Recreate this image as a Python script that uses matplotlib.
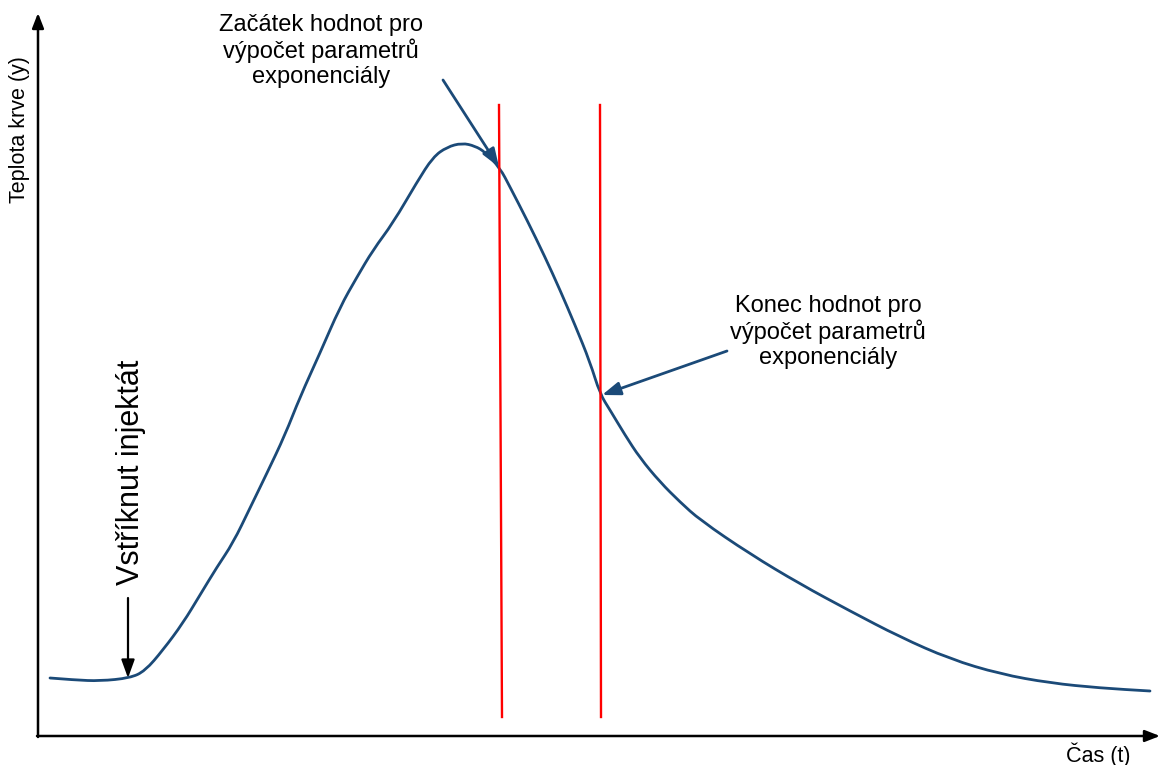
import matplotlib
matplotlib.use("Agg")
import matplotlib.pyplot as plt
from matplotlib.path import Path
from matplotlib.patches import PathPatch

# Curve (pixel-like units: x right, y down)
curve_x = [50, 75, 100, 130, 145, 163, 183, 200, 217, 233, 250, 267, 285, 300, 320,
           340, 357, 373, 393, 417, 433, 447, 462, 475, 485, 500, 510, 527, 545, 560,
           575, 590, 600, 610, 625, 640, 660, 680, 700, 750, 800, 850, 900, 950,
           1000, 1050, 1100, 1150]
curve_y = [678, 680, 681, 678, 671, 650, 623, 595, 567, 543, 508, 473, 435, 397, 353,
           307, 277, 250, 223, 182, 157, 147, 143, 146, 152, 168, 187, 220, 257, 290,
           325, 362, 394, 410, 435, 458, 482, 502, 520, 554, 584, 611, 637, 659,
           674, 683, 688, 691]

red_lines_x = [(499, 502), (600, 601)]
red_top, red_bottom = 105, 717

axis_origin = (38, 736)
xaxis_end = 1160
yaxis_end = 13

curve_color = "#1b4a78"
font = ["Liberation Sans", "DejaVu Sans"]

fig = plt.figure(figsize=(11.62, 7.65), dpi=100)
ax = fig.add_axes([0, 0, 1, 1])
ax.set_xlim(0, 1162)
ax.set_ylim(765, 0)
ax.axis("off")

# axes with arrows
ax.annotate("", xy=(xaxis_end, axis_origin[1]), xytext=(axis_origin[0] - 1, axis_origin[1]),
            arrowprops=dict(arrowstyle="-|>,head_length=0.9,head_width=0.35", lw=1.8, color="black",
                            shrinkA=0, shrinkB=0))
ax.annotate("", xy=(axis_origin[0], yaxis_end), xytext=(axis_origin[0], axis_origin[1] + 1),
            arrowprops=dict(arrowstyle="-|>,head_length=0.9,head_width=0.35", lw=1.8, color="black",
                            shrinkA=0, shrinkB=0))

# red vertical lines
for (xt, xb) in red_lines_x:
    ax.plot([xt, xb], [red_top, red_bottom], color="#ff0000", lw=1.7)

# smooth curve through the read points (quadratic Bezier between midpoints)
pts = list(zip(curve_x, curve_y))
verts = [pts[0]]
codes = [Path.MOVETO]
for i in range(1, len(pts) - 1):
    mid = ((pts[i][0] + pts[i + 1][0]) / 2, (pts[i][1] + pts[i + 1][1]) / 2)
    verts += [pts[i], mid]
    codes += [Path.CURVE3, Path.CURVE3]
verts.append(pts[-1])
codes.append(Path.LINETO)
ax.add_patch(PathPatch(Path(verts, codes), fill=False, edgecolor=curve_color, lw=2.0,
                       capstyle="round", joinstyle="round"))

# injection arrow
ax.annotate("", xy=(128, 678), xytext=(128, 598),
            arrowprops=dict(arrowstyle="-|>,head_length=1.1,head_width=0.4", lw=1.6, color="black",
                            shrinkA=0, shrinkB=0))

# annotation arrows
ax.annotate("", xy=(499, 167), xytext=(443, 80),
            arrowprops=dict(arrowstyle="-|>,head_length=1.1,head_width=0.4", lw=2.0, color=curve_color,
                            shrinkA=0, shrinkB=0))
ax.annotate("", xy=(602, 395), xytext=(727, 351),
            arrowprops=dict(arrowstyle="-|>,head_length=1.1,head_width=0.4", lw=2.0, color=curve_color,
                            shrinkA=0, shrinkB=0))

# texts
ax.text(20, 130, "Teplota krve (y)", rotation=90, ha="center", va="center",
        fontsize=15.5, family=font)
ax.text(1098, 755, "Čas (t)", ha="center", va="center", fontsize=15.5, family=font)
ax.text(131, 472, "Vstříknut injektát", rotation=90, ha="center", va="center",
        fontsize=22, family=font)
ax.text(321, 51, "Začátek hodnot pro\nvýpočet parametrů\nexponenciály", ha="center", va="center",
        fontsize=17, family=font, linespacing=1.15)
ax.text(828, 332, "Konec hodnot pro\nvýpočet parametrů\nexponenciály", ha="center", va="center",
        fontsize=17, family=font, linespacing=1.15)

fig.savefig("out.png", dpi=100, facecolor="white")
